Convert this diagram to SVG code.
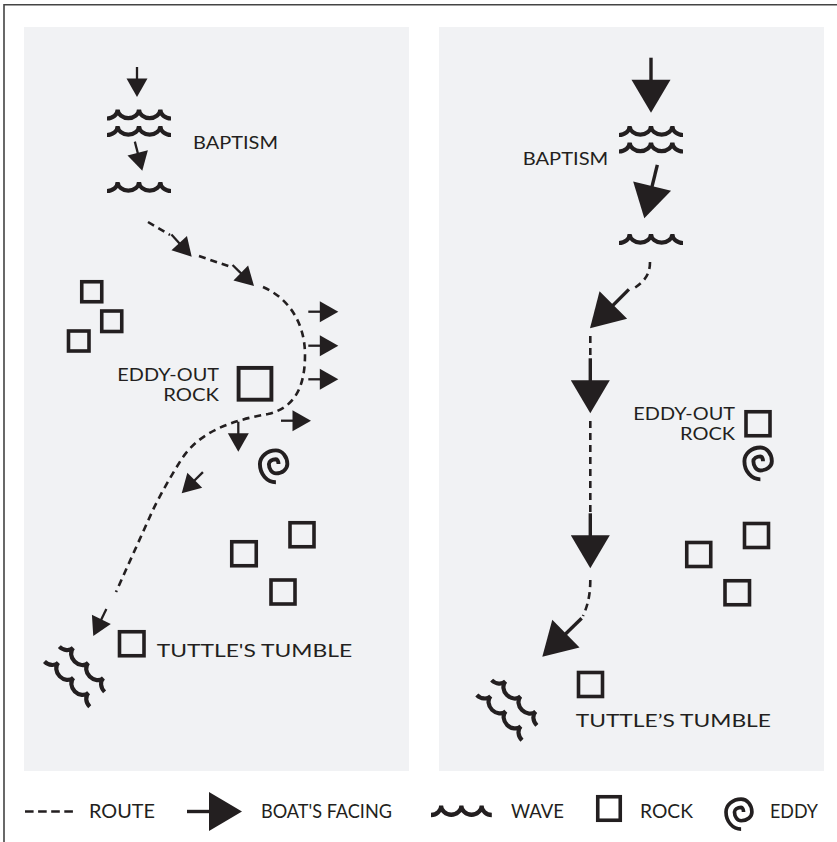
<svg xmlns="http://www.w3.org/2000/svg" xmlns:xlink="http://www.w3.org/1999/xlink" width="837" height="842" viewBox="0 0 837 842">
<style>
.panel{fill:#f1f2f4}
.frame{fill:none;stroke:#444;stroke-width:1.6}
.route{fill:none;stroke:#231f20;stroke-width:2.6;stroke-dasharray:7 5}
.rock{fill:none;stroke:#231f20;stroke-width:3.6}
.wave{fill:none;stroke:#231f20;stroke-width:4.2}
.eddy{fill:none;stroke:#231f20;stroke-width:3.6}
.lbl{font-family:Lato,"Open Sans","Liberation Sans",sans-serif;font-size:18px;fill:#231f20}
.lbl2{font-family:Lato,"Open Sans","Liberation Sans",sans-serif;font-size:16.5px;fill:#231f20}
.leg{font-family:Lato,"Open Sans","Liberation Sans",sans-serif;font-size:19px;fill:#231f20}
</style>
<defs>
<path id="wave" class="wave" d="M0 0 A10.67 9 0 0 0 10.67 -9 A10.67 9 0 0 0 32 -9 A10.67 9 0 0 0 53.33 -9 A10.67 9 0 0 0 64 0"/>
<g id="arrS"><path d="M-30 0H-17" stroke="#231f20" stroke-width="2.3"/><path d="M0 0L-18.5 -10.5L-18.5 10.5Z" fill="#231f20"/></g>
<g id="arrL"><path d="M-55 0H-31" stroke="#231f20" stroke-width="3.4"/><path d="M0 0L-33 -19.5L-33 19.5Z" fill="#231f20"/></g>
<path id="eddy" class="eddy" d="M2.4 0 A2.4 4.5 0 0 0 0 -4.5 A6.5 4.5 0 0 0 -6.5 0 A6.5 8.6 0 0 0 0 8.6 A10.6 8.6 0 0 0 10.6 0 A10.6 12.7 0 0 0 0 -12.7 A14.8 12.7 0 0 0 -14.8 0 A14.8 16.8 0 0 0 0 16.8"/>
<g id="tumble"><use xlink:href="#wave" href="#wave" x="-32" y="-6"/><use xlink:href="#wave" href="#wave" x="-32" y="15"/></g>
</defs>

<rect width="837" height="842" fill="#fff"/>
<path class="frame" d="M4 842 V4.7 H837"/>
<rect class="panel" x="24" y="27" width="385" height="744"/>
<rect class="panel" x="439" y="27" width="385" height="744"/>

<g id="connectors">
<path class="route" d="M148 222 L170 235"/>
<path class="route" d="M199 256 L231 267"/>
<path class="route" d="M263 287 C288 298 305 322 305 355 C305 388 294 408 268 414 C235 420 200 430 181 460 C171 476 160 495 152 512 L116 592"/>
<path class="route" d="M650 262 C650 275 644 282 633 289"/>
<path class="route" d="M590.3 336 V358"/>
<path class="route" d="M590.3 421 V513"/>
<path class="route" d="M590.3 580 C590.3 594 588 605 583 616"/>
</g>

<g id="left-facing">
<use xlink:href="#arrS" href="#arrS" transform="translate(137 97) rotate(90)"/>
<use xlink:href="#arrS" href="#arrS" transform="translate(142.3 170.7) rotate(75.6)"/>
<use xlink:href="#arrS" href="#arrS" transform="translate(191.7 256.7) rotate(47.5)"/>
<use xlink:href="#arrS" href="#arrS" transform="translate(254 286) rotate(44.4)"/>
<use xlink:href="#arrS" href="#arrS" transform="translate(338.3 311.7)"/>
<use xlink:href="#arrS" href="#arrS" transform="translate(338.3 345.7)"/>
<use xlink:href="#arrS" href="#arrS" transform="translate(338.3 379.3)"/>
<use xlink:href="#arrS" href="#arrS" transform="translate(311 420.7)"/>
<use xlink:href="#arrS" href="#arrS" transform="translate(238.3 451.7) rotate(90)"/>
<use xlink:href="#arrS" href="#arrS" transform="translate(181.7 493.3) rotate(135)"/>
<use xlink:href="#arrS" href="#arrS" transform="translate(93.3 636) rotate(115.8)"/>
</g>

<g id="left-baptism">
<use xlink:href="#wave" href="#wave" x="107" y="118.5"/>
<use xlink:href="#wave" href="#wave" x="107" y="135"/>
<use xlink:href="#wave" href="#wave" x="107" y="191"/>
<text class="lbl" x="193" y="148.7" textLength="85" lengthAdjust="spacingAndGlyphs">BAPTISM</text>
</g>
<g id="left-rocks">
<rect class="rock" x="81.75" y="281.75" width="20" height="20"/>
<rect class="rock" x="101.75" y="311" width="20" height="20.5"/>
<rect class="rock" x="68.5" y="331" width="20.5" height="20"/>
<rect class="rock" x="231.75" y="541.75" width="24.5" height="24"/>
<rect class="rock" x="290" y="522.75" width="24" height="24"/>
<rect class="rock" x="271" y="580" width="24" height="24"/>
</g>
<g id="left-eddy-out-rock">
<rect class="rock" x="238.6" y="367.9" width="32.8" height="31.8" style="stroke-width:3.9"/>
<text class="lbl2" x="117.3" y="381" textLength="101.7" lengthAdjust="spacingAndGlyphs">EDDY-OUT</text>
<text class="lbl2" x="163.3" y="400.5" textLength="55.7" lengthAdjust="spacingAndGlyphs">ROCK</text>
</g>
<g id="left-eddy"><use xlink:href="#eddy" href="#eddy" transform="translate(275.9 464.1) scale(1.08)"/></g>
<g id="left-tuttles-tumble">
<use xlink:href="#tumble" href="#tumble" transform="translate(77.7 673.5) rotate(45)"/>
<rect class="rock" x="119.5" y="631.75" width="24.5" height="24"/>
<text class="lbl" x="156.7" y="656.7" textLength="195.6" lengthAdjust="spacingAndGlyphs">TUTTLE'S TUMBLE</text>
</g>

<g id="right-facing">
<use xlink:href="#arrL" href="#arrL" transform="translate(651 112.7) rotate(90)"/>
<use xlink:href="#arrL" href="#arrL" transform="translate(644.3 218.3) rotate(103.7)"/>
<use xlink:href="#arrL" href="#arrL" transform="translate(590 328.3) rotate(135)"/>
<use xlink:href="#arrL" href="#arrL" transform="translate(590.3 413.3) rotate(90)"/>
<use xlink:href="#arrL" href="#arrL" transform="translate(590.3 568.3) rotate(90)"/>
<use xlink:href="#arrL" href="#arrL" transform="translate(542.3 656.7) rotate(135.7)"/>
</g>
<g id="right-baptism">
<use xlink:href="#wave" href="#wave" x="619" y="135"/>
<use xlink:href="#wave" href="#wave" x="619" y="151.5"/>
<use xlink:href="#wave" href="#wave" x="619" y="243"/>
<text class="lbl" x="522.7" y="165" textLength="85.6" lengthAdjust="spacingAndGlyphs">BAPTISM</text>
</g>
<g id="right-eddy-out-rock">
<rect class="rock" x="746" y="411.75" width="24" height="24"/>
<text class="lbl2" x="633.3" y="420" textLength="101.7" lengthAdjust="spacingAndGlyphs">EDDY-OUT</text>
<text class="lbl2" x="680" y="439.5" textLength="55" lengthAdjust="spacingAndGlyphs">ROCK</text>
</g>
<g id="right-eddy"><use xlink:href="#eddy" href="#eddy" transform="translate(760.4 461.2) scale(1.08)"/></g>
<g id="right-rocks">
<rect class="rock" x="686.75" y="542.5" width="24" height="24"/>
<rect class="rock" x="744.5" y="523.5" width="24" height="24"/>
<rect class="rock" x="725" y="580.75" width="24.5" height="24"/>
</g>
<g id="right-tuttles-tumble">
<use xlink:href="#tumble" href="#tumble" transform="translate(510 707) rotate(45)"/>
<rect class="rock" x="578.5" y="672.5" width="24" height="24"/>
<text class="lbl" x="575.7" y="726.7" textLength="195.3" lengthAdjust="spacingAndGlyphs">TUTTLE’S TUMBLE</text>
</g>

<g id="legend">
<path class="route" d="M25 811.5H73" style="stroke-dasharray:8.6 4.5"/>
<text class="leg" x="89" y="817.5" textLength="66" lengthAdjust="spacingAndGlyphs">ROUTE</text>
<use xlink:href="#arrL" href="#arrL" transform="translate(242 811.5)"/>
<text class="leg" x="261" y="817.5" textLength="131" lengthAdjust="spacingAndGlyphs">BOAT'S FACING</text>
<use xlink:href="#wave" href="#wave" transform="translate(431 815) scale(0.95 1.05)"/>
<text class="leg" x="511" y="817.5" textLength="53" lengthAdjust="spacingAndGlyphs">WAVE</text>
<rect class="rock" x="597.75" y="796.75" width="22.5" height="23.5"/>
<text class="leg" x="640" y="817.5" textLength="53" lengthAdjust="spacingAndGlyphs">ROCK</text>
<use xlink:href="#eddy" href="#eddy" transform="translate(741.1 812) scale(1.02)"/>
<text class="leg" x="770" y="817.5" textLength="48" lengthAdjust="spacingAndGlyphs">EDDY</text>
</g>
</svg>
